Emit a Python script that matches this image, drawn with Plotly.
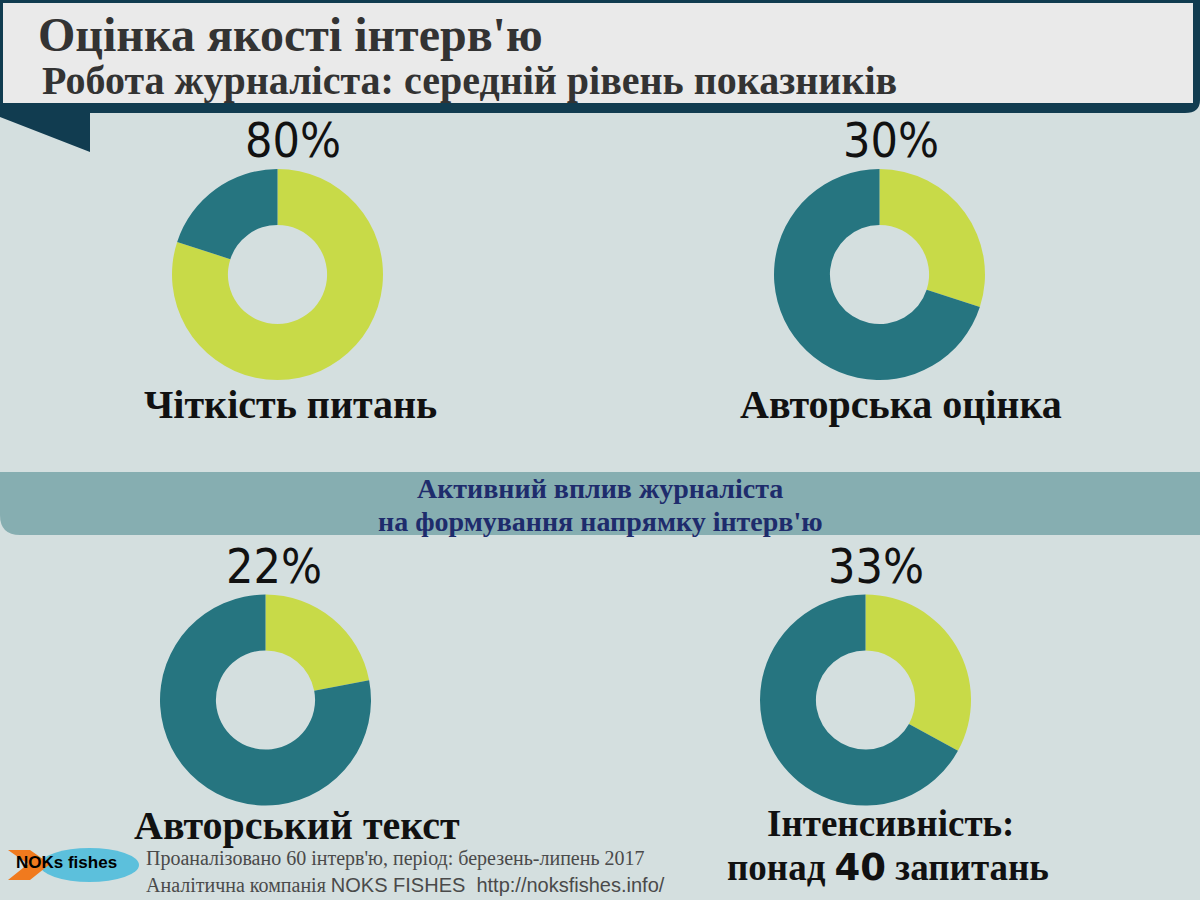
import plotly.graph_objects as go

# ---- data ----
metrics = ["Чіткість питань", "Авторська оцінка", "Авторський текст", "Інтенсивність"]
values = [80, 30, 22, 33]
pct_labels = ["80%", "30%", "22%", "33%"]
title = "Оцінка якості інтерв'ю"
subtitle = "Робота журналіста: середній рівень показників"
banner_lines = ["Активний вплив журналіста", "на формування напрямку інтерв'ю"]
footer1 = "Проаналізовано 60 інтерв'ю, період: березень-липень 2017"

W, H = 1200, 900
BG = "#d4dfdf"
LIME = "#c8da48"
TEAL = "#267580"
FRAME = "#113c50"

def px(x):
    return x / W

def py(y):
    return 1 - y / H

fig = go.Figure()

centers = [(277.5, 274.5), (879.5, 274.5), (265.5, 700), (865.5, 700)]
R = 105.5
for (cx, cy), v in zip(centers, values):
    fig.add_trace(go.Pie(
        values=[v, 100 - v],
        marker=dict(colors=[LIME, TEAL], line=dict(width=0)),
        hole=0.47,
        sort=False,
        direction="clockwise",
        rotation=0,
        textinfo="none",
        hoverinfo="skip",
        showlegend=False,
        domain=dict(x=[px(cx - R), px(cx + R)], y=[py(cy + R), py(cy - R)]),
    ))

shapes = []
# header frame
shapes.append(dict(type="path", xref="paper", yref="paper",
                   path=f"M 0 1 L 1 1 L 1 {py(100)} Q 1 {py(113)} {px(1185)} {py(113)} L {px(90)} {py(113)} L {px(90)} {py(152)} L 0 {py(117)} Z",
                   fillcolor=FRAME, line=dict(width=0), layer="below"))
shapes.append(dict(type="rect", xref="paper", yref="paper",
                   x0=px(3), x1=px(1193), y0=py(103), y1=py(3),
                   fillcolor="#eaeaea", line=dict(width=0), layer="below"))
# banner
shapes.append(dict(type="path", xref="paper", yref="paper",
                   path=f"M 0 {py(472)} L 1 {py(472)} L 1 {py(535)} L {px(20)} {py(535)} Q 0 {py(535)} 0 {py(515)} Z",
                   fillcolor="#86aeb1", line=dict(width=0), layer="below"))
# logo
shapes.append(dict(type="circle", xref="paper", yref="paper",
                   x0=px(40), x1=px(139), y0=py(882), y1=py(848),
                   fillcolor="#5cc0dc", line=dict(width=0), layer="below"))
shapes.append(dict(type="path", xref="paper", yref="paper",
                   path=f"M {px(8)} {py(850)} L {px(30)} {py(850)} L {px(50)} {py(864)} L {px(30)} {py(880)} L {px(8)} {py(880)} L {px(28)} {py(864)} Z",
                   fillcolor="#f07a1e", line=dict(width=0), layer="below"))

ann = []
serif = "Liberation Serif"
ann.append(dict(text=f"<b>{title}</b>", x=px(36), y=py(34), xanchor="left", yanchor="middle",
                font=dict(family=serif, size=48, color="#333333"), showarrow=False, xref="paper", yref="paper"))
ann.append(dict(text=f"<b>{subtitle}</b>", x=px(40), y=py(80), xanchor="left", yanchor="middle",
                font=dict(family=serif, size=40, color="#333333"), showarrow=False, xref="paper", yref="paper"))

pct_pos = [(293, 140), (891, 140), (274, 566), (876, 566)]
for (x, y), t in zip(pct_pos, pct_labels):
    ann.append(dict(text=t, x=px(x), y=py(y), xanchor="center", yanchor="middle",
                    font=dict(family="DejaVu Sans Condensed, DejaVu Sans", size=48, color="#111111"),
                    showarrow=False, xref="paper", yref="paper"))

lab_pos = [(290, 405), (901, 405), (297, 825)]
for (x, y), t in zip(lab_pos, metrics[:3]):
    ann.append(dict(text=f"<b>{t}</b>", x=px(x), y=py(y), xanchor="center", yanchor="middle",
                    font=dict(family=serif, size=40, color="#111111"),
                    showarrow=False, xref="paper", yref="paper"))
ann.append(dict(text=f"<b>{metrics[3]}:</b>", x=px(890), y=py(823), xanchor="center", yanchor="middle",
                font=dict(family=serif, size=37, color="#111111"), showarrow=False, xref="paper", yref="paper"))
ann.append(dict(text="<b>понад <span style='font-family:DejaVu Sans'>40</span> запитань</b>", x=px(888), y=py(867),
                xanchor="center", yanchor="middle",
                font=dict(family=serif, size=37, color="#111111"), showarrow=False, xref="paper", yref="paper"))

for yy, line in zip([488, 521], banner_lines):
    ann.append(dict(text=f"<b>{line}</b>", x=0.5, y=py(yy), xanchor="center", yanchor="middle",
                    font=dict(family=serif, size=28, color="#1e2c6c"), showarrow=False, xref="paper", yref="paper"))

ann.append(dict(text=footer1, x=px(144), y=py(858), xanchor="left", yanchor="middle",
                font=dict(family=serif, size=20, color="#4a4a4a"), showarrow=False, xref="paper", yref="paper"))
ann.append(dict(text="Аналітична компанія <span style='font-family:Liberation Sans'>NOKS FISHES  http://noksfishes.info/</span>",
                x=px(144), y=py(885), xanchor="left", yanchor="middle",
                font=dict(family=serif, size=20, color="#4a4a4a"), showarrow=False, xref="paper", yref="paper"))
ann.append(dict(text="<b>NOKs fishes</b>", x=px(66), y=py(862), xanchor="center", yanchor="middle",
                font=dict(family="Liberation Sans Narrow, Liberation Sans", size=17, color="#000000"),
                showarrow=False, xref="paper", yref="paper"))

fig.update_layout(
    width=W, height=H,
    margin=dict(l=0, r=0, t=0, b=0),
    paper_bgcolor=BG, plot_bgcolor=BG,
    shapes=shapes, annotations=ann,
    showlegend=False,
)
fig.write_html("out.html")
